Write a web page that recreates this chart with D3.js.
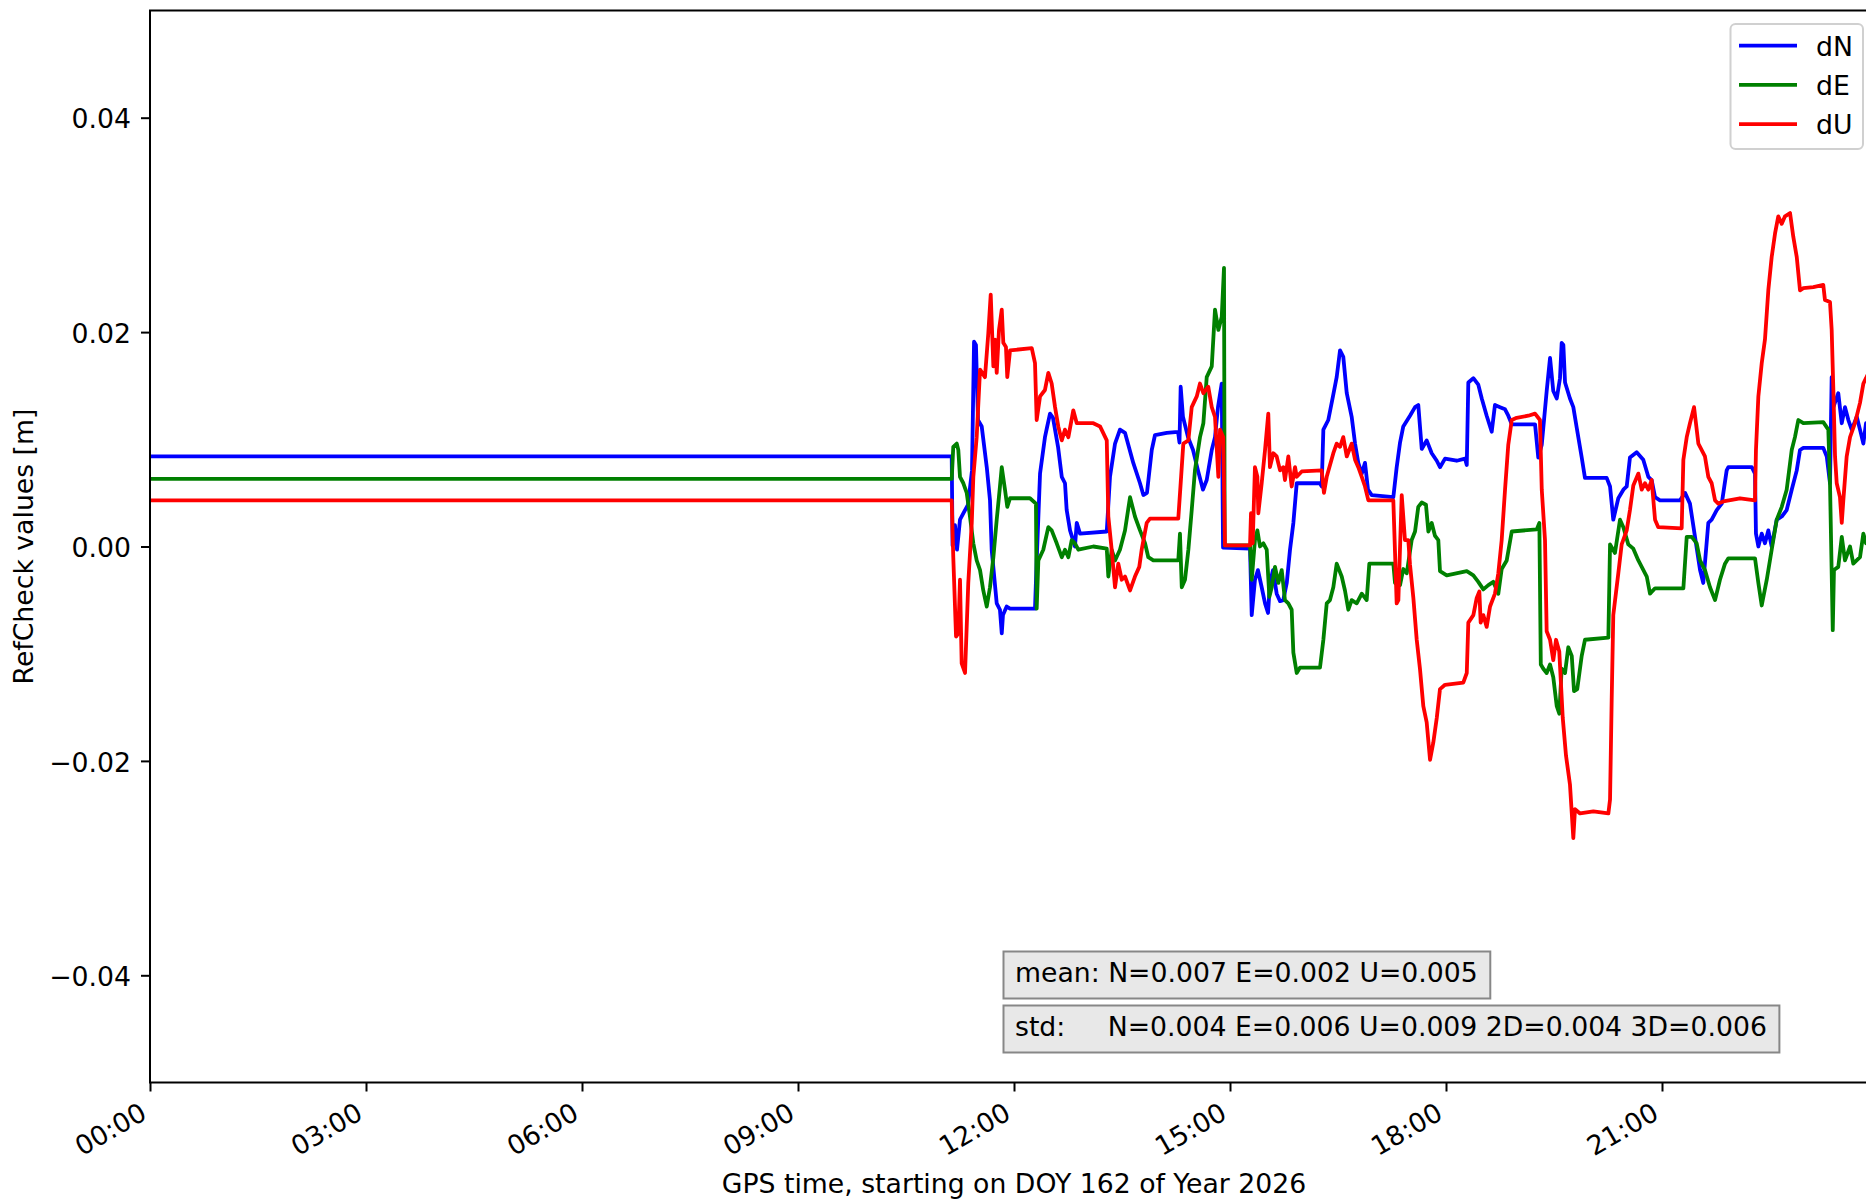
<!DOCTYPE html>
<html>
<head>
<meta charset="utf-8">
<script src="https://cdn.jsdelivr.net/npm/d3@7"></script>
<style>
  html, body { margin: 0; padding: 0; background: #ffffff; }
  svg { display: block; font-family: "DejaVu Sans", sans-serif; }
</style>
</head>
<body>
<svg id="chart" width="1866" height="1201"></svg>
<script>
// GPS day 162 of 2026 (11 June), times are minutes after 00:00 GPS time
const dayStart = Date.UTC(2026, 5, 11);
const seriesNames = ["dN", "dE", "dU"];
const seriesColors = ["#0000ff", "#008000", "#ff0000"];
const yTicks = [-0.04, -0.02, 0.00, 0.02, 0.04];
const xLabel = "GPS time, starting on DOY 162 of Year 2026";
const yLabel = "RefCheck values [m]";
const meanText = "mean: N=0.007 E=0.002 U=0.005";
const stdText = "std:     N=0.004 E=0.006 U=0.009 2D=0.004 3D=0.006";

// [minute of day, metres]
const dN = [[0,0.0084],[668.1,0.0084],[668.8,0.0001],[670.8,0.0020],[672.5,-0.0003],[675.0,0.0025],[678.3,0.0032],[681.7,0.0039],[685.0,0.0071],[686.7,0.0191],[688.3,0.0188],[690.0,0.0118],[693.1,0.0112],[697.3,0.0074],[700.0,0.0043],[701.4,-0.0003],[705.6,-0.0053],[708.3,-0.0059],[709.8,-0.0081],[710.8,-0.0064],[713.9,-0.0056],[716.7,-0.0058],[737.5,-0.0058],[738.9,-0.0013],[741.7,0.0068],[745.8,0.0102],[747.5,0.0111],[750.0,0.0124],[752.5,0.0120],[756.7,0.0093],[759.8,0.0065],[762.5,0.0059],[763.9,0.0034],[766.7,0.0015],[769.2,0.0006],[770.8,0.0000],[772.3,0.0022],[775.0,0.0012],[797.3,0.0014],[800.0,0.0065],[804.2,0.0096],[808.3,0.0109],[812.5,0.0106],[819.4,0.0078],[825.0,0.0059],[827.8,0.0048],[830.8,0.0050],[834.8,0.0090],[837.5,0.0104],[847.3,0.0106],[856.7,0.0107],[857.9,0.0097],[858.9,0.0149],[860.8,0.0121],[865.0,0.0102],[869.2,0.0090],[873.3,0.0071],[877.5,0.0053],[880.6,0.0062],[884.8,0.0090],[887.5,0.0102],[890.0,0.0130],[893.1,0.0152],[894.2,-0.0001],[916.7,-0.0002],[918.1,-0.0064],[920.8,-0.0031],[923.3,-0.0022],[926.4,-0.0038],[929.2,-0.0053],[931.7,-0.0062],[933.3,-0.0034],[935.8,-0.0022],[938.9,-0.0044],[941.7,-0.0051],[944.4,-0.0050],[947.3,-0.0034],[950.0,-0.0003],[952.8,0.0022],[955.6,0.0059],[975.0,0.0059],[976.4,0.0056],[977.8,0.0109],[981.9,0.0118],[985.8,0.0140],[988.9,0.0158],[991.7,0.0183],[994.4,0.0177],[997.3,0.0143],[1001.4,0.0121],[1004.2,0.0096],[1006.9,0.0078],[1009.8,0.0068],[1012.5,0.0078],[1015.0,0.0053],[1018.1,0.0048],[1036.1,0.0046],[1038.9,0.0074],[1041.7,0.0097],[1044.4,0.0112],[1050.0,0.0122],[1054.2,0.0130],[1056.9,0.0132],[1059.8,0.0091],[1063.9,0.0099],[1068.1,0.0087],[1072.3,0.0080],[1075.0,0.0074],[1079.2,0.0082],[1088.9,0.0080],[1095.8,0.0082],[1097.3,0.0076],[1098.6,0.0153],[1102.8,0.0157],[1106.9,0.0151],[1109.8,0.0138],[1113.9,0.0122],[1118.1,0.0107],[1120.8,0.0132],[1125.0,0.0130],[1129.2,0.0128],[1131.9,0.0122],[1134.8,0.0114],[1154.2,0.0114],[1156.9,0.0083],[1159.8,0.0095],[1163.9,0.0145],[1166.7,0.0176],[1169.4,0.0145],[1172.3,0.0138],[1175.0,0.0157],[1176.4,0.0190],[1177.8,0.0188],[1179.2,0.0153],[1183.3,0.0138],[1186.1,0.0130],[1188.9,0.0111],[1193.1,0.0083],[1195.8,0.0064],[1213.9,0.0064],[1216.7,0.0056],[1219.4,0.0025],[1223.6,0.0045],[1227.8,0.0053],[1230.6,0.0056],[1233.3,0.0083],[1238.9,0.0088],[1244.4,0.0081],[1248.6,0.0065],[1251.4,0.0062],[1254.2,0.0046],[1258.3,0.0043],[1275.0,0.0043],[1279.2,0.0050],[1283.3,0.0040],[1287.5,0.0009],[1291.7,-0.0022],[1294.4,-0.0034],[1298.6,0.0022],[1301.4,0.0025],[1305.6,0.0034],[1309.8,0.0040],[1313.9,0.0071],[1315.3,0.0074],[1334.8,0.0074],[1337.5,0.0068],[1338.3,0.0012],[1340.3,0.0000],[1343.1,0.0012],[1345.8,0.0003],[1348.6,0.0015],[1351.4,0.0000],[1355.6,0.0025],[1359.8,0.0028],[1363.9,0.0034],[1368.1,0.0053],[1372.3,0.0071],[1375.0,0.0090],[1377.8,0.0092],[1394.4,0.0092],[1397.3,0.0084],[1400.0,0.0059],[1401.4,0.0158],[1402.8,0.0130],[1406.9,0.0143],[1409.8,0.0115],[1412.5,0.0130],[1415.3,0.0118],[1418.1,0.0109],[1422.3,0.0121],[1425.0,0.0109],[1427.8,0.0096],[1430.0,0.0115],[1433.3,0.0109]];

const dE = [[0,0.0063],[668.1,0.0063],[669.4,0.0093],[672.3,0.0096],[673.6,0.0090],[675.0,0.0065],[677.8,0.0059],[680.6,0.0050],[683.3,0.0028],[686.1,0.0003],[688.9,-0.0013],[691.7,-0.0022],[694.4,-0.0041],[697.3,-0.0056],[700.0,-0.0038],[702.8,-0.0010],[705.6,0.0025],[708.3,0.0056],[709.8,0.0074],[712.5,0.0053],[714.4,0.0037],[716.7,0.0045],[733.3,0.0045],[738.3,0.0040],[738.9,-0.0058],[740.3,-0.0013],[744.4,-0.0003],[748.6,0.0018],[751.4,0.0015],[755.6,0.0003],[759.8,-0.0010],[762.5,-0.0003],[765.3,-0.0010],[768.1,0.0006],[770.8,0.0003],[773.6,-0.0003],[786.1,0.0000],[797.3,-0.0002],[798.6,-0.0028],[801.4,-0.0003],[804.2,-0.0013],[808.3,-0.0003],[812.5,0.0015],[816.7,0.0046],[820.8,0.0028],[825.0,0.0015],[829.2,0.0003],[831.9,-0.0010],[836.1,-0.0013],[856.9,-0.0013],[858.3,0.0012],[859.8,-0.0038],[862.5,-0.0031],[865.3,-0.0003],[868.1,0.0034],[870.8,0.0071],[875.0,0.0102],[877.8,0.0115],[880.6,0.0158],[884.8,0.0168],[887.5,0.0221],[890.3,0.0202],[893.1,0.0214],[895.0,0.0260],[895.6,0.0001],[916.7,0.0001],[918.1,-0.0031],[920.8,0.0006],[922.8,0.0015],[925.0,0.0000],[927.8,0.0003],[930.6,-0.0003],[932.8,-0.0047],[934.8,-0.0038],[937.5,-0.0019],[940.3,-0.0034],[943.1,-0.0022],[945.8,-0.0050],[948.6,-0.0053],[951.4,-0.0059],[952.8,-0.0099],[955.6,-0.0118],[958.3,-0.0113],[975.0,-0.0113],[977.8,-0.0087],[980.6,-0.0053],[983.3,-0.0050],[986.1,-0.0038],[988.9,-0.0016],[993.1,-0.0028],[995.8,-0.0041],[998.6,-0.0059],[1001.4,-0.0050],[1005.6,-0.0053],[1009.8,-0.0044],[1013.9,-0.0050],[1016.1,-0.0016],[1036.1,-0.0016],[1037.5,-0.0034],[1041.7,-0.0036],[1044.4,-0.0021],[1047.3,-0.0025],[1051.4,0.0006],[1054.2,0.0014],[1056.9,0.0037],[1059.8,0.0041],[1063.3,0.0039],[1065.3,0.0014],[1068.1,0.0022],[1070.8,0.0010],[1073.6,0.0006],[1075.0,-0.0023],[1080.6,-0.0027],[1097.3,-0.0023],[1102.8,-0.0027],[1106.9,-0.0033],[1111.1,-0.0040],[1115.3,-0.0036],[1119.4,-0.0033],[1123.6,-0.0044],[1126.4,-0.0021],[1130.6,-0.0013],[1134.8,0.0014],[1155.6,0.0016],[1157.8,0.0022],[1159.0,-0.0110],[1161.1,-0.0114],[1163.9,-0.0118],[1166.7,-0.0110],[1169.4,-0.0122],[1172.3,-0.0149],[1174.4,-0.0156],[1176.4,-0.0114],[1179.2,-0.0118],[1181.9,-0.0094],[1184.8,-0.0102],[1186.7,-0.0135],[1189.4,-0.0133],[1193.1,-0.0102],[1195.8,-0.0087],[1215.3,-0.0085],[1216.7,0.0002],[1220.8,-0.0006],[1225.0,0.0025],[1227.8,0.0018],[1231.9,0.0002],[1236.1,-0.0002],[1240.3,-0.0013],[1243.1,-0.0019],[1247.3,-0.0028],[1250.0,-0.0044],[1254.2,-0.0039],[1277.8,-0.0039],[1280.6,0.0009],[1284.8,0.0009],[1288.9,0.0003],[1291.7,-0.0013],[1295.8,-0.0022],[1300.0,-0.0038],[1304.2,-0.0050],[1308.3,-0.0031],[1312.5,-0.0016],[1315.3,-0.0011],[1337.5,-0.0011],[1340.3,-0.0034],[1343.1,-0.0055],[1347.3,-0.0031],[1351.4,-0.0003],[1355.6,0.0025],[1359.8,0.0037],[1363.9,0.0053],[1368.1,0.0090],[1370.8,0.0102],[1373.6,0.0118],[1377.8,0.0115],[1394.4,0.0116],[1398.6,0.0109],[1400.0,0.0059],[1402.3,-0.0078],[1403.3,-0.0022],[1406.9,-0.0019],[1409.8,0.0009],[1412.5,-0.0013],[1416.7,0.0000],[1419.4,-0.0016],[1425.0,-0.0010],[1427.8,0.0012],[1430.0,0.0003],[1433.3,0.0006]];

const dU = [[0,0.0043],[668.1,0.0043],[669.4,-0.0010],[671.7,-0.0084],[673.6,-0.0081],[675.0,-0.0031],[676.4,-0.0109],[679.2,-0.0118],[681.9,-0.0034],[684.8,0.0022],[686.1,0.0065],[688.9,0.0102],[691.7,0.0165],[695.8,0.0158],[698.6,0.0199],[700.6,0.0235],[702.8,0.0168],[704.2,0.0193],[705.6,0.0162],[707.5,0.0202],[709.8,0.0221],[711.1,0.0190],[713.3,0.0186],[714.4,0.0158],[716.7,0.0183],[734.8,0.0185],[737.5,0.0171],[738.9,0.0118],[741.7,0.0140],[745.8,0.0146],[748.6,0.0162],[751.4,0.0152],[754.2,0.0130],[756.9,0.0112],[759.8,0.0099],[762.5,0.0109],[765.3,0.0102],[769.4,0.0127],[772.3,0.0115],[786.1,0.0115],[791.7,0.0112],[797.3,0.0099],[798.6,0.0028],[801.4,-0.0003],[804.2,-0.0038],[806.9,-0.0016],[809.8,-0.0031],[812.5,-0.0028],[816.7,-0.0041],[820.8,-0.0028],[824.4,-0.0019],[826.4,-0.0003],[830.6,0.0022],[833.3,0.0026],[856.9,0.0026],[858.9,0.0059],[861.1,0.0096],[865.3,0.0099],[868.1,0.0130],[872.3,0.0140],[875.0,0.0152],[877.8,0.0143],[881.9,0.0149],[884.8,0.0130],[887.5,0.0121],[890.3,0.0065],[891.7,0.0109],[894.4,0.0102],[895.8,0.0001],[916.7,0.0001],[917.5,0.0031],[918.9,0.0003],[920.8,0.0074],[922.8,0.0065],[923.6,0.0031],[926.4,0.0059],[929.2,0.0090],[931.9,0.0124],[933.3,0.0074],[936.1,0.0087],[938.9,0.0084],[941.7,0.0071],[944.4,0.0074],[945.8,0.0062],[948.6,0.0084],[951.4,0.0056],[954.2,0.0074],[955.6,0.0065],[959.8,0.0070],[976.4,0.0071],[978.3,0.0050],[980.6,0.0065],[986.1,0.0087],[988.9,0.0096],[991.7,0.0093],[994.4,0.0102],[997.3,0.0084],[1001.4,0.0096],[1004.2,0.0081],[1006.9,0.0074],[1009.8,0.0065],[1012.5,0.0056],[1015.3,0.0043],[1036.1,0.0043],[1038.9,-0.0053],[1040.3,-0.0050],[1043.1,0.0048],[1045.8,0.0006],[1048.6,0.0006],[1050.0,-0.0017],[1052.8,-0.0048],[1055.6,-0.0087],[1058.3,-0.0114],[1061.1,-0.0149],[1063.9,-0.0164],[1066.7,-0.0199],[1069.4,-0.0183],[1072.3,-0.0160],[1075.0,-0.0133],[1079.2,-0.0129],[1094.4,-0.0127],[1097.3,-0.0118],[1098.6,-0.0071],[1102.8,-0.0064],[1105.6,-0.0048],[1107.8,-0.0042],[1108.9,-0.0071],[1111.1,-0.0064],[1113.9,-0.0075],[1116.7,-0.0056],[1120.8,-0.0044],[1123.6,-0.0025],[1126.4,0.0006],[1129.2,0.0053],[1131.9,0.0095],[1134.8,0.0118],[1138.9,0.0120],[1148.6,0.0122],[1154.2,0.0124],[1158.3,0.0118],[1159.8,0.0053],[1162.5,0.0006],[1163.9,-0.0079],[1166.7,-0.0087],[1169.4,-0.0106],[1171.7,-0.0087],[1174.4,-0.0098],[1177.3,-0.0160],[1180.0,-0.0195],[1183.3,-0.0222],[1186.1,-0.0272],[1187.5,-0.0245],[1191.7,-0.0249],[1202.8,-0.0247],[1215.3,-0.0249],[1216.7,-0.0236],[1218.1,-0.0141],[1219.4,-0.0064],[1223.6,-0.0025],[1226.4,0.0002],[1230.6,0.0015],[1233.3,0.0034],[1236.1,0.0057],[1240.3,0.0068],[1243.1,0.0053],[1245.8,0.0059],[1248.6,0.0053],[1251.4,0.0062],[1254.2,0.0025],[1256.9,0.0018],[1276.4,0.0017],[1277.8,0.0081],[1280.6,0.0102],[1283.3,0.0115],[1286.7,0.0130],[1290.3,0.0096],[1293.1,0.0090],[1295.8,0.0084],[1298.6,0.0065],[1301.4,0.0059],[1304.2,0.0043],[1306.9,0.0040],[1311.1,0.0042],[1325.0,0.0045],[1337.5,0.0043],[1338.3,0.0090],[1340.3,0.0140],[1343.1,0.0171],[1345.8,0.0193],[1348.6,0.0239],[1351.4,0.0270],[1354.2,0.0292],[1356.9,0.0308],[1359.8,0.0301],[1362.5,0.0308],[1366.7,0.0311],[1369.4,0.0289],[1372.3,0.0270],[1375.0,0.0239],[1377.8,0.0241],[1386.1,0.0242],[1394.4,0.0244],[1395.8,0.0230],[1400.0,0.0228],[1401.4,0.0202],[1402.8,0.0146],[1404.2,0.0084],[1405.6,0.0059],[1408.3,0.0046],[1409.8,0.0022],[1411.1,0.0043],[1413.9,0.0084],[1416.7,0.0102],[1420.8,0.0115],[1425.0,0.0134],[1427.8,0.0152],[1430.0,0.0157],[1433.3,0.0165]];

const series = [dN, dE, dU];

const W = 1866, H = 1201;
const FONT = 26.7;
const LINE_W = 3.8;
const plot = { left: 150, right: 1878, top: 10.5, bottom: 1082.5 };

const svg = d3.select("#chart");
svg.append("rect").attr("width", W).attr("height", H).attr("fill", "#ffffff");

const toDate = m => new Date(dayStart + m * 60000);
const x = d3.scaleUtc()
  .domain([toDate(0), toDate(1440)])
  .range([plot.left, plot.right]);
const y = d3.scaleLinear()
  .domain([-0.05, 0.05])
  .range([plot.bottom, plot.top]);

svg.append("defs").append("clipPath").attr("id", "plotClip")
  .append("rect")
  .attr("x", plot.left).attr("y", plot.top)
  .attr("width", plot.right - plot.left).attr("height", plot.bottom - plot.top);

// traces
const line = d3.line()
  .x(d => x(toDate(d[0])))
  .y(d => y(d[1]));

const traces = svg.append("g").attr("clip-path", "url(#plotClip)");
series.forEach((s, i) => {
  traces.append("path")
    .datum(s)
    .attr("d", line)
    .attr("fill", "none")
    .attr("stroke", seriesColors[i])
    .attr("stroke-width", LINE_W)
    .attr("stroke-linejoin", "round")
    .attr("stroke-linecap", "square");
});

// x axis (3-hour ticks, rotated labels)
const xTickValues = d3.utcHour.every(3).range(toDate(0), toDate(1440));
const xAxis = svg.append("g")
  .attr("transform", `translate(0,${plot.bottom})`)
  .call(d3.axisBottom(x).tickValues(xTickValues).tickFormat(d3.utcFormat("%H:%M")).tickSize(9));
xAxis.select(".domain").remove();
xAxis.selectAll(".tick line").attr("stroke", "#000").attr("stroke-width", 2);
xAxis.selectAll(".tick text")
  .attr("x", 0).attr("y", 0).attr("dy", null)
  .attr("transform", "translate(-2,35.5) rotate(-30)")
  .attr("text-anchor", "end")
  .attr("fill", "#000")
  .style("font-size", FONT + "px")
  .style("font-family", "'DejaVu Sans', sans-serif");

// y axis
const yAxis = svg.append("g")
  .attr("transform", `translate(${plot.left},0)`)
  .call(d3.axisLeft(y).tickValues(yTicks).tickFormat(d3.format(".2f")).tickSize(9).tickPadding(10));
yAxis.select(".domain").remove();
yAxis.selectAll(".tick line").attr("stroke", "#000").attr("stroke-width", 2);
yAxis.selectAll(".tick text")
  .attr("dy", "0.38em")
  .attr("fill", "#000")
  .style("font-size", FONT + "px")
  .style("font-family", "'DejaVu Sans', sans-serif");

// spines
const spines = svg.append("g").attr("stroke", "#000").attr("stroke-width", 2).attr("fill", "none");
spines.append("rect")
  .attr("x", plot.left).attr("y", plot.top)
  .attr("width", plot.right - plot.left).attr("height", plot.bottom - plot.top);

// axis titles
svg.append("text")
  .attr("x", (plot.left + plot.right) / 2).attr("y", 1193)
  .attr("text-anchor", "middle")
  .style("font-size", FONT + "px")
  .text(xLabel);
svg.append("text")
  .attr("transform", `translate(33,${(plot.top + plot.bottom) / 2}) rotate(-90)`)
  .attr("text-anchor", "middle")
  .style("font-size", FONT + "px")
  .text(yLabel);

// legend
const legend = svg.append("g");
legend.append("rect")
  .attr("x", 1730.5).attr("y", 24)
  .attr("width", 132.5).attr("height", 125)
  .attr("rx", 5).attr("ry", 5)
  .attr("fill", "#ffffff").attr("fill-opacity", 0.8)
  .attr("stroke", "#d0d0d0").attr("stroke-width", 2);
seriesNames.forEach((name, i) => {
  const ry = 45.7 + i * 39.2;
  legend.append("line")
    .attr("x1", 1739).attr("x2", 1797)
    .attr("y1", ry).attr("y2", ry)
    .attr("stroke", seriesColors[i]).attr("stroke-width", LINE_W);
  legend.append("text")
    .attr("x", 1816).attr("y", ry + 9.8)
    .style("font-size", FONT + "px")
    .text(name);
});

// statistics boxes
function statBox(text, top, baseline) {
  const g = svg.append("g");
  const rect = g.append("rect");
  const t = g.append("text")
    .attr("x", 1015).attr("y", baseline)
    .attr("xml:space", "preserve")
    .style("white-space", "pre")
    .style("font-size", FONT + "px")
    .text(text);
  const len = t.node().getComputedTextLength();
  rect.attr("x", 1003.5).attr("y", top)
    .attr("width", len + 24).attr("height", 47)
    .attr("fill", "#e8e8e8")
    .attr("stroke", "#878787").attr("stroke-width", 2);
}
statBox(meanText, 951.5, 982.3);
statBox(stdText, 1005.5, 1036.3);
</script>
</body>
</html>
